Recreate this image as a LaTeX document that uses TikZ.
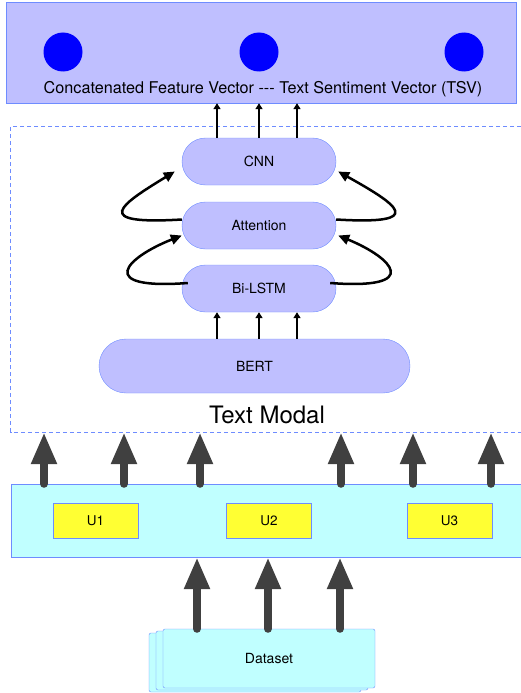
\documentclass[tikz,border=0pt]{standalone}
\usepackage{fontspec}
\setmainfont{TeX Gyre Heros}
\usetikzlibrary{arrows.meta,calc,shadows}
\definecolor{lav}{RGB}{191,191,255}
\definecolor{lavline}{RGB}{110,140,255}
\definecolor{aqua}{RGB}{192,255,255}
\definecolor{unit}{RGB}{255,255,51}
\definecolor{fat}{RGB}{64,64,64}
\tikzset{
  layer/.style={draw=lavline, fill=lav, rounded corners=23.5pt, minimum width=154pt, minimum height=47pt, font=\fontsize{14}{16}\selectfont},
  unitbox/.style={draw=lavline, fill=unit, minimum width=85pt, minimum height=35pt, font=\fontsize{13.5}{15}\selectfont},
  feed/.style={line width=1.6pt, -{Triangle[length=6pt,width=7pt]}},
  skip/.style={line width=2.5pt, -{Triangle[length=11pt,width=10pt]}},
  fatarrow/.style={fat, line width=8pt, line cap=round, -{Triangle[length=32pt,width=24pt]}}
}
\begin{document}
\begin{tikzpicture}[x=1pt, y=-1pt]
\useasboundingbox (0,0) rectangle (521,693);

% output vector
\node[draw=lavline, fill=lav, minimum width=510pt, minimum height=101pt] (tsv) at (261,52.5) {};
\foreach \x [count=\i] in {63,259,464}
    \node[circle, fill=blue, minimum size=39pt, inner sep=0pt] (dot\i) at (\x,52) {};
\node[font=\fontsize{16.2}{18}\selectfont] (tsvlabel) at (263,89) {Concatenated Feature Vector -{}-{}- Text Sentiment Vector (TSV)};

% text modal (open on the right)
\node[minimum width=510pt, minimum height=305pt] (modal) at (266,279.5) {};
\draw[lavline, line width=1pt, dash pattern=on 4pt off 3pt] (modal.north east) -- (modal.north west) -- (modal.south west) -- (modal.south east);
\node[font=\fontsize{24}{28}\selectfont] (modallabel) at (267,415) {Text Modal};

\node[layer] (cnn) at (259,161.5) {CNN};
\node[layer] (att) at (259,225.5) {Attention};
\node[layer] (lstm) at (259,288.5) {Bi-LSTM};
\node[layer, rounded corners=27pt, minimum width=311pt, minimum height=54pt] (bert) at (254.5,366) {BERT};

\foreach \x in {217,259,297}
{
    \draw[feed] (\x,0 |- cnn.north) -- (\x,0 |- tsv.south);
    \draw[feed] (\x,0 |- bert.north) -- (\x,0 |- lstm.south);
}

\draw[skip] ($(att.west)+(0,-6)$) .. controls (90,225) and (120,205) .. ($(cnn.west)+(-7,10)$);
\draw[skip] ($(lstm.west)+(6,-5.5)$) .. controls (95,290) and (125,258) .. ($(att.west)+(0,10)$);
\draw[skip] ($(att.east)+(0,-6)$) .. controls (428,225) and (398,205) .. ($(cnn.east)+(2,10)$);
\draw[skip] ($(lstm.east)+(-6,-5.5)$) .. controls (423,290) and (393,258) .. ($(att.east)+(2,10)$);

% utterances (open on the right)
\node[fill=aqua, minimum width=510pt, minimum height=73pt] (units) at (266,520.5) {};
\draw[lavline] (units.north east) -- (units.north west) -- (units.south west) -- (units.south east);
\foreach \x [count=\i] in {95.5,269,449.5}
    \node[unitbox] (u\i) at (\x,520.5) {U\i};

\foreach \x in {44,124,200,341,413,491}
    \draw[fatarrow] (\x,0 |- units.north) -- (\x,0 |- modal.south);

% dataset
\node[draw=lavline, fill=aqua, rounded corners=2pt, minimum width=212pt, minimum height=59pt,
      double copy shadow={shadow xshift=-7pt, shadow yshift=-2pt}, font=\fontsize{14}{16}\selectfont] (data) at (269,658.5) {Dataset};

\foreach \x in {197,268,340}
    \draw[fatarrow] (\x,0 |- data.north) -- (\x,0 |- units.south);
\end{tikzpicture}
\end{document}
